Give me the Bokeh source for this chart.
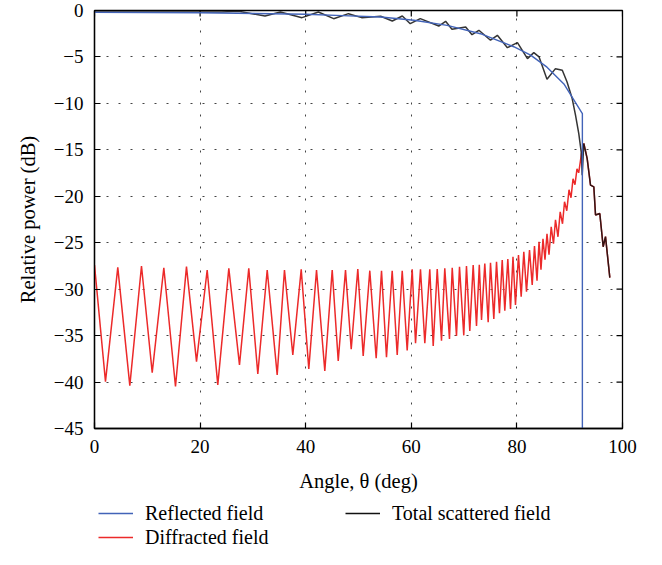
import math
from bokeh.plotting import figure
from bokeh.models import Legend, LegendItem, SingleIntervalTicker
from bokeh.layouts import column
from bokeh.embed import file_html
from bokeh.resources import INLINE

# ---------------- data ----------------
diff_angle = [0.00, 2.08, 4.41, 6.69, 8.90, 10.93, 13.13, 15.34, 17.42, 19.32, 21.34, 23.35,
              25.44, 27.46, 29.22, 30.93, 32.71, 34.60, 35.98, 37.56, 39.15, 40.59, 42.05, 43.62,
              45.02, 46.16, 47.54, 48.62, 49.87, 50.89, 52.14, 53.35,
              54.36, 55.30, 56.38, 57.33, 58.28, 59.22, 60.17, 60.80, 61.74, 62.56, 63.50, 64.15,
              64.91, 65.72, 66.34, 67.23, 67.75, 68.56, 69.13, 69.94, 70.45, 71.08, 71.72, 72.35,
              72.88, 73.30, 73.92, 74.56, 75.00, 75.63, 76.14, 76.70, 77.22, 77.71, 78.28, 78.79,
              79.26, 79.73, 80.30, 80.81, 81.31, 81.82, 82.39, 82.90, 83.33, 83.81, 84.19, 84.56,
              84.94, 85.32, 85.70, 86.08, 86.50, 86.93, 87.31, 87.78, 88.20, 88.64, 89.02, 89.45,
              89.87, 90.25, 90.63, 91.00, 91.38, 91.70,
              92.23, 92.67, 93.31, 93.94, 94.57, 94.89, 95.70, 96.34, 96.78, 97.60]
diff_db = [-27.40, -39.95, -27.66, -40.38, -27.51, -38.98, -27.69, -40.48, -27.58, -37.80,
           -27.94, -40.30, -27.76, -38.15, -27.76, -39.12, -27.94, -39.23, -27.94, -37.08,
           -27.87, -38.58, -27.94, -38.80, -27.94, -37.72, -27.94, -36.47, -27.83, -37.18,
           -28.01, -37.44,
           -28.01, -37.33, -28.01, -37.08, -28.01, -36.61, -27.87, -35.83, -27.87, -35.83,
           -27.87, -36.11, -27.83, -35.54, -27.76, -35.35, -27.69, -35.03, -27.58, -34.97,
           -27.51, -34.49, -27.40, -33.96,
           -27.37, -33.31, -27.23, -33.57, -27.15, -33.20, -27.04, -32.60, -26.86, -32.31,
           -26.75, -32.13, -26.51, -31.70, -26.32, -30.81, -25.97, -30.27, -25.78, -29.55,
           -25.35, -29.09, -24.89, -27.90, -24.57, -26.83, -24.03, -26.29, -23.28, -25.11,
           -22.53, -24.36, -21.67, -22.96, -20.59, -21.56, -19.30, -20.16, -18.12, -18.76,
           -17.04, -17.47,
           -15.43, -14.32, -15.94, -18.80, -18.98, -22.02, -21.85, -25.43, -24.35, -28.76]

tot_angle = [0.0, 19.7, 24.1, 27.3, 32.3, 35.2, 39.3, 42.4, 45.3, 48.1, 50.6,
             54.2, 56.4, 58.3, 59.8, 61.7, 65.2, 66.5, 67.7, 70.3, 71.5, 72.8,
             75.0, 76.3, 78.2, 80.1, 82.0, 83.2, 84.2, 85.7, 87.3, 88.6, 89.5,
             90.47, 91.10, 91.72, 92.18, 92.37, 92.67,
             93.31, 93.94, 94.57, 94.89, 95.70, 96.34, 96.78, 97.60]
tot_db = [-0.16, -0.16, -0.16, -0.09, -0.59, -0.16, -0.77, -0.16, -0.88, -0.34, -0.77,
          -0.62, -1.13, -0.59, -1.42, -0.88, -1.67, -1.16, -2.02, -1.77, -2.60, -2.13,
          -3.20, -2.67, -4.00, -3.46, -5.18, -4.54, -5.00, -7.40, -6.26, -6.43, -7.69,
          -9.48, -11.27, -13.25, -15.22, -17.72, -14.32,
          -15.94, -18.80, -18.98, -22.02, -21.85, -25.43, -24.35, -28.76]

ref_angle = [0.0, 20.0, 40.0, 47.0, 54.2, 60.5, 66.8, 73.1, 79.4, 82.6, 85.7, 88.9, 92.4, 92.4]
ref_db = [-0.2, -0.25, -0.4, -0.55, -0.7, -1.05, -1.6, -2.5, -3.9, -4.8, -6.1, -7.9, -11.1, -45.0]

x_ticks = [0, 20, 40, 60, 80, 100]
y_ticks = [-45, -40, -35, -30, -25, -20, -15, -10, -5, 0]
series_labels = ["Reflected field", "Diffracted field", "Total scattered field"]
series_colors = ["#4263b8", "#ec2a2a", "#111111"]
x_label = "Angle, θ (deg)"
y_label = "Relative power (dB)"

FONT = "Liberation Serif"

# ---------------- main plot ----------------
p = figure(width=646, height=495, x_range=(x_ticks[0], x_ticks[-1]),
           y_range=(y_ticks[0], y_ticks[-1]),
           output_backend="svg", toolbar_location=None,
           min_border_left=94, min_border_right=24, min_border_top=10, min_border_bottom=67)

p.outline_line_color = "black"
p.outline_line_width = 1.3
p.background_fill_color = "white"

xa = p.xaxis[0]
ya = p.yaxis[0]
xa.ticker = SingleIntervalTicker(interval=20, num_minor_ticks=0)
ya.ticker = SingleIntervalTicker(interval=5, num_minor_ticks=0)
for ax in (xa, ya):
    ax.axis_line_color = "black"
    ax.axis_line_width = 1.3
    ax.major_tick_in = 6
    ax.major_tick_out = 0
    ax.major_tick_line_color = "black"
    ax.major_tick_line_width = 1.2
    ax.minor_tick_line_color = None
    ax.major_label_text_font = FONT
    ax.major_label_text_font_size = "19px"
    ax.major_label_text_color = "black"
    ax.axis_label_text_font = FONT
    ax.axis_label_text_font_size = "20.5px"
    ax.axis_label_text_font_style = "normal"
    ax.axis_label_text_color = "black"
ya.major_label_overrides = {t: str(t).replace("-", "\u2212") for t in y_ticks}
xa.major_label_standoff = 11
ya.major_label_standoff = 11
xa.axis_label = x_label
ya.axis_label = y_label
xa.axis_label_standoff = 14
ya.axis_label_standoff = 12

# inner tick marks on the top and right edges of the box
p.scatter(x=[x_ticks[-1]] * len(y_ticks), y=y_ticks, marker="dash", size=12,
          line_color="black", line_width=1.2)
p.scatter(x=x_ticks, y=[y_ticks[-1]] * len(x_ticks), marker="dash", size=12,
          angle=math.pi / 2, line_color="black", line_width=1.2)

p.grid.grid_line_color = "#444444"
p.grid.grid_line_dash = "2 10"
p.grid.grid_line_width = 1

p.line(diff_angle, diff_db, line_color=series_colors[1], line_width=1.5)
p.line(tot_angle, tot_db, line_color=series_colors[2], line_width=1.5, line_alpha=0.85)
p.line(ref_angle, ref_db, line_color=series_colors[0], line_width=1.4)

# ---------------- legend strip (frame aligned with the plot's frame) ----------------
q = figure(width=646, height=54, x_range=(0, 1), y_range=(0, 1),
           output_backend="svg", toolbar_location=None,
           x_axis_location=None, y_axis_location=None, min_border=0)
q.outline_line_color = None
q.grid.visible = False
# same series drawn again; every value lies outside this strip's ranges, so only
# their legend entries show
proxies = [q.line(ref_angle, ref_db, line_color=series_colors[0], line_width=1.5),
           q.line(diff_angle, diff_db, line_color=series_colors[1], line_width=1.5),
           q.line(tot_angle, tot_db, line_color=series_colors[2], line_width=1.5)]

def make_legend(idx, loc):
    lg = Legend(items=[LegendItem(label=series_labels[i], renderers=[proxies[i]]) for i in idx],
                location=loc, orientation="vertical")
    lg.border_line_color = None
    lg.background_fill_alpha = 0
    lg.padding = 0
    lg.margin = 0
    lg.glyph_width = 35
    lg.glyph_height = 14
    lg.label_height = 14
    lg.label_standoff = 12
    lg.spacing = 1
    lg.label_text_font = FONT
    lg.label_text_font_size = "20px"
    lg.label_text_color = "black"
    return lg

q.add_layout(make_legend([0, 1], (4, 0.5)))
q.add_layout(make_legend([2], (251, 24.5)))

open("out.html", "w").write(file_html(column(p, q, spacing=0), INLINE))
